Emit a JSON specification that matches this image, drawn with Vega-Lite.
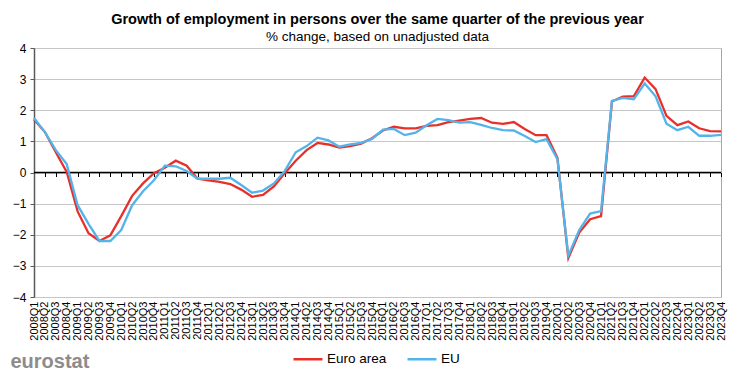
{
  "$schema": "https://vega.github.io/schema/vega-lite/v6.json",
  "width": 687,
  "height": 249,
  "autosize": {"type": "none"},
  "padding": {"left": 34, "top": 48, "right": 19, "bottom": 74},
  "background": "white",
  "config": {
    "font": "Liberation Sans",
    "view": {"stroke": "#a6a6a6", "strokeWidth": 1},
    "title": {"font": "Liberation Sans", "subtitleFont": "Liberation Sans"},
    "axisY": {
      "title": null, "values": [-4, -3, -2, -1, 0, 1, 2, 3, 4], "labelOverlap": false,
      "labelFontSize": 12, "labelColor": "#000000", "labelPadding": 4,
      "tickSize": 4, "tickColor": "#595959", "domainColor": "#595959", "domainWidth": 1.5,
      "grid": true, "gridColor": "#c6c6c6", "gridWidth": 1.2
    }
  },
  "title": {
    "text": "Growth of employment in persons over the same quarter of the previous year",
    "subtitle": "% change, based on unadjusted data",
    "anchor": "middle",
    "fontSize": 14.5,
    "fontWeight": "bold",
    "color": "#000000",
    "subtitleFontSize": 13.5,
    "subtitleColor": "#000000",
    "subtitlePadding": 2,
    "offset": -2
  },
  "data": {
    "values": [
      {"q": "2008Q1", "s": "Euro area", "v": 1.70}, {"q": "2008Q1", "s": "EU", "v": 1.75},
      {"q": "2008Q2", "s": "Euro area", "v": 1.30}, {"q": "2008Q2", "s": "EU", "v": 1.30},
      {"q": "2008Q3", "s": "Euro area", "v": 0.65}, {"q": "2008Q3", "s": "EU", "v": 0.72},
      {"q": "2008Q4", "s": "Euro area", "v": 0.02}, {"q": "2008Q4", "s": "EU", "v": 0.27},
      {"q": "2009Q1", "s": "Euro area", "v": -1.25}, {"q": "2009Q1", "s": "EU", "v": -1.05},
      {"q": "2009Q2", "s": "Euro area", "v": -1.95}, {"q": "2009Q2", "s": "EU", "v": -1.65},
      {"q": "2009Q3", "s": "Euro area", "v": -2.20}, {"q": "2009Q3", "s": "EU", "v": -2.20},
      {"q": "2009Q4", "s": "Euro area", "v": -2.02}, {"q": "2009Q4", "s": "EU", "v": -2.20},
      {"q": "2010Q1", "s": "Euro area", "v": -1.40}, {"q": "2010Q1", "s": "EU", "v": -1.85},
      {"q": "2010Q2", "s": "Euro area", "v": -0.75}, {"q": "2010Q2", "s": "EU", "v": -1.05},
      {"q": "2010Q3", "s": "Euro area", "v": -0.35}, {"q": "2010Q3", "s": "EU", "v": -0.60},
      {"q": "2010Q4", "s": "Euro area", "v": -0.02}, {"q": "2010Q4", "s": "EU", "v": -0.25},
      {"q": "2011Q1", "s": "Euro area", "v": 0.15}, {"q": "2011Q1", "s": "EU", "v": 0.22},
      {"q": "2011Q2", "s": "Euro area", "v": 0.38}, {"q": "2011Q2", "s": "EU", "v": 0.20},
      {"q": "2011Q3", "s": "Euro area", "v": 0.22}, {"q": "2011Q3", "s": "EU", "v": 0.05},
      {"q": "2011Q4", "s": "Euro area", "v": -0.20}, {"q": "2011Q4", "s": "EU", "v": -0.20},
      {"q": "2012Q1", "s": "Euro area", "v": -0.25}, {"q": "2012Q1", "s": "EU", "v": -0.20},
      {"q": "2012Q2", "s": "Euro area", "v": -0.30}, {"q": "2012Q2", "s": "EU", "v": -0.20},
      {"q": "2012Q3", "s": "Euro area", "v": -0.37}, {"q": "2012Q3", "s": "EU", "v": -0.17},
      {"q": "2012Q4", "s": "Euro area", "v": -0.55}, {"q": "2012Q4", "s": "EU", "v": -0.40},
      {"q": "2013Q1", "s": "Euro area", "v": -0.78}, {"q": "2013Q1", "s": "EU", "v": -0.65},
      {"q": "2013Q2", "s": "Euro area", "v": -0.72}, {"q": "2013Q2", "s": "EU", "v": -0.58},
      {"q": "2013Q3", "s": "Euro area", "v": -0.45}, {"q": "2013Q3", "s": "EU", "v": -0.35},
      {"q": "2013Q4", "s": "Euro area", "v": -0.02}, {"q": "2013Q4", "s": "EU", "v": 0.05},
      {"q": "2014Q1", "s": "Euro area", "v": 0.38}, {"q": "2014Q1", "s": "EU", "v": 0.65},
      {"q": "2014Q2", "s": "Euro area", "v": 0.72}, {"q": "2014Q2", "s": "EU", "v": 0.85},
      {"q": "2014Q3", "s": "Euro area", "v": 0.95}, {"q": "2014Q3", "s": "EU", "v": 1.12},
      {"q": "2014Q4", "s": "Euro area", "v": 0.90}, {"q": "2014Q4", "s": "EU", "v": 1.03},
      {"q": "2015Q1", "s": "Euro area", "v": 0.80}, {"q": "2015Q1", "s": "EU", "v": 0.83},
      {"q": "2015Q2", "s": "Euro area", "v": 0.85}, {"q": "2015Q2", "s": "EU", "v": 0.90},
      {"q": "2015Q3", "s": "Euro area", "v": 0.93}, {"q": "2015Q3", "s": "EU", "v": 0.95},
      {"q": "2015Q4", "s": "Euro area", "v": 1.10}, {"q": "2015Q4", "s": "EU", "v": 1.08},
      {"q": "2016Q1", "s": "Euro area", "v": 1.35}, {"q": "2016Q1", "s": "EU", "v": 1.38},
      {"q": "2016Q2", "s": "Euro area", "v": 1.47}, {"q": "2016Q2", "s": "EU", "v": 1.40},
      {"q": "2016Q3", "s": "Euro area", "v": 1.42}, {"q": "2016Q3", "s": "EU", "v": 1.20},
      {"q": "2016Q4", "s": "Euro area", "v": 1.42}, {"q": "2016Q4", "s": "EU", "v": 1.28},
      {"q": "2017Q1", "s": "Euro area", "v": 1.50}, {"q": "2017Q1", "s": "EU", "v": 1.52},
      {"q": "2017Q2", "s": "Euro area", "v": 1.52}, {"q": "2017Q2", "s": "EU", "v": 1.72},
      {"q": "2017Q3", "s": "Euro area", "v": 1.62}, {"q": "2017Q3", "s": "EU", "v": 1.68},
      {"q": "2017Q4", "s": "Euro area", "v": 1.67}, {"q": "2017Q4", "s": "EU", "v": 1.60},
      {"q": "2018Q1", "s": "Euro area", "v": 1.72}, {"q": "2018Q1", "s": "EU", "v": 1.62},
      {"q": "2018Q2", "s": "Euro area", "v": 1.75}, {"q": "2018Q2", "s": "EU", "v": 1.53},
      {"q": "2018Q3", "s": "Euro area", "v": 1.60}, {"q": "2018Q3", "s": "EU", "v": 1.43},
      {"q": "2018Q4", "s": "Euro area", "v": 1.56}, {"q": "2018Q4", "s": "EU", "v": 1.36},
      {"q": "2019Q1", "s": "Euro area", "v": 1.62}, {"q": "2019Q1", "s": "EU", "v": 1.35},
      {"q": "2019Q2", "s": "Euro area", "v": 1.40}, {"q": "2019Q2", "s": "EU", "v": 1.17},
      {"q": "2019Q3", "s": "Euro area", "v": 1.20}, {"q": "2019Q3", "s": "EU", "v": 0.98},
      {"q": "2019Q4", "s": "Euro area", "v": 1.20}, {"q": "2019Q4", "s": "EU", "v": 1.07},
      {"q": "2020Q1", "s": "Euro area", "v": 0.47}, {"q": "2020Q1", "s": "EU", "v": 0.43},
      {"q": "2020Q2", "s": "Euro area", "v": -2.75}, {"q": "2020Q2", "s": "EU", "v": -2.67},
      {"q": "2020Q3", "s": "Euro area", "v": -1.93}, {"q": "2020Q3", "s": "EU", "v": -1.85},
      {"q": "2020Q4", "s": "Euro area", "v": -1.50}, {"q": "2020Q4", "s": "EU", "v": -1.32},
      {"q": "2021Q1", "s": "Euro area", "v": -1.40}, {"q": "2021Q1", "s": "EU", "v": -1.24},
      {"q": "2021Q2", "s": "Euro area", "v": 2.28}, {"q": "2021Q2", "s": "EU", "v": 2.30},
      {"q": "2021Q3", "s": "Euro area", "v": 2.44}, {"q": "2021Q3", "s": "EU", "v": 2.40},
      {"q": "2021Q4", "s": "Euro area", "v": 2.45}, {"q": "2021Q4", "s": "EU", "v": 2.35},
      {"q": "2022Q1", "s": "Euro area", "v": 3.05}, {"q": "2022Q1", "s": "EU", "v": 2.86},
      {"q": "2022Q2", "s": "Euro area", "v": 2.68}, {"q": "2022Q2", "s": "EU", "v": 2.45},
      {"q": "2022Q3", "s": "Euro area", "v": 1.82}, {"q": "2022Q3", "s": "EU", "v": 1.57},
      {"q": "2022Q4", "s": "Euro area", "v": 1.52}, {"q": "2022Q4", "s": "EU", "v": 1.36},
      {"q": "2023Q1", "s": "Euro area", "v": 1.64}, {"q": "2023Q1", "s": "EU", "v": 1.47},
      {"q": "2023Q2", "s": "Euro area", "v": 1.42}, {"q": "2023Q2", "s": "EU", "v": 1.18},
      {"q": "2023Q3", "s": "Euro area", "v": 1.33}, {"q": "2023Q3", "s": "EU", "v": 1.18},
      {"q": "2023Q4", "s": "Euro area", "v": 1.32}, {"q": "2023Q4", "s": "EU", "v": 1.21}
    ]
  },
  "resolve": {"axis": {"x": "independent"}},
  "layer": [
    {
      "mark": {"type": "line", "color": "#000000", "strokeWidth": 1.5},
      "encoding": {
        "x": {
          "field": "q", "type": "ordinal", "sort": null,
          "scale": {"type": "point", "padding": 0},
          "axis": {
            "orient": "bottom", "offset": -124.5, "labels": false, "title": null,
            "domain": false, "grid": false, "ticks": true, "tickSize": 4,
            "tickColor": "#000000", "tickWidth": 1
          }
        },
        "y": {
          "datum": 0, "type": "quantitative",
          "scale": {"domain": [-4, 4], "nice": false, "zero": false}
        }
      }
    },
    {
      "mark": {"type": "line", "strokeWidth": 2.3},
      "encoding": {
        "x": {
          "field": "q", "type": "ordinal", "sort": null,
          "scale": {"type": "point", "padding": 0},
          "axis": {
            "orient": "bottom", "labelAngle": -90, "labelAlign": "right", "labelBaseline": "middle",
            "labelFontSize": 11, "labelColor": "#000000", "labelPadding": 4,
            "labelOverlap": false, "labelFlush": false,
            "ticks": false, "domain": false, "grid": false,
            "title": "eurostat", "titleAnchor": "start", "titleAlign": "left",
            "titleBaseline": "bottom", "titleX": -24, "titleY": 74,
            "titleFontSize": 20, "titleFontWeight": "bold", "titleColor": "#8c8c8c"
          }
        },
        "y": {
          "field": "v", "type": "quantitative",
          "scale": {"domain": [-4, 4], "nice": false, "zero": false}
        },
        "color": {
          "field": "s", "type": "nominal",
          "scale": {"domain": ["Euro area", "EU"], "range": ["#e8302a", "#52b4ea"]},
          "legend": {
            "title": null, "orient": "none", "direction": "horizontal",
            "legendX": 258, "legendY": 295,
            "symbolType": "stroke", "symbolSize": 841, "symbolStrokeWidth": 2.5,
            "labelFontSize": 13.5, "labelColor": "#000000", "labelOffset": 3,
            "columnPadding": 15
          }
        }
      }
    }
  ]
}
